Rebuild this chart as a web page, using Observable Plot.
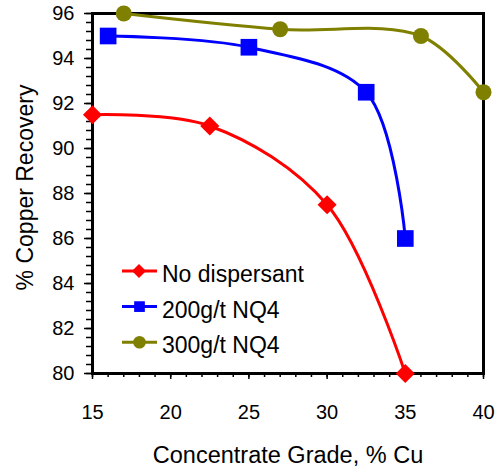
<!DOCTYPE html>
<html>
<head>
<meta charset="utf-8">
<script src="https://cdn.jsdelivr.net/npm/d3@7"></script>
<script src="https://cdn.jsdelivr.net/npm/@observablehq/plot@0.6"></script>
<style>
  html, body { margin: 0; padding: 0; background: #fff; }
  #wrap { position: relative; width: 503px; height: 467px; }
  #legend { position: absolute; left: 0; top: 0; pointer-events: none; }
  text { font-family: "Liberation Sans", Arial, sans-serif; }
</style>
</head>
<body>
<div id="wrap"></div>
<script>
// ---- data ----
const seriesNames = ["No dispersant", "200g/t NQ4", "300g/t NQ4"];
const seriesColors = ["#ff0000", "#0000ff", "#808000"];
const seriesSymbols = ["diamond2", "square", "circle"];

const gradeNone = [15, 22.5, 30, 35];
const recoveryNone = [91.5, 91.0, 87.5, 80.0];
const grade200 = [16, 25, 32.5, 35];
const recovery200 = [95.0, 94.5, 92.5, 86.0];
const grade300 = [17, 27, 36, 40];
const recovery300 = [96.0, 95.3, 95.0, 92.5];

const xTicks = [15, 20, 25, 30, 35, 40];
const yTicks = [80, 82, 84, 86, 88, 90, 92, 94, 96];
const xMinorTicks = d3.range(15, 40.001, 1);
const yMinorTicks = d3.range(80, 96.001, 0.4);

const xTitle = "Concentrate Grade, % Cu";
const yTitle = "% Copper Recovery";

// ---- build ----
const toRows = (xs, ys) => xs.map((x, i) => ({x, y: ys[i]}));
const series = [
  toRows(gradeNone, recoveryNone),
  toRows(grade200, recovery200),
  toRows(grade300, recovery300)
];
const markerR = [8.6, 9.4, 8.0];

const font = "Liberation Sans, Arial, sans-serif";

const marks = [
  Plot.frame({stroke: "#000", strokeWidth: 3}),
  Plot.axisX({ticks: xMinorTicks, tickSize: 4, text: null, label: null, strokeWidth: 1.5}),
  Plot.axisX({ticks: xTicks, tickSize: 6, tickPadding: 25, fontSize: 20, label: null, strokeWidth: 1.5, tickFormat: d => d}),
  Plot.axisY({ticks: yMinorTicks, tickSize: 6, text: null, label: null, strokeWidth: 1.5}),
  Plot.axisY({ticks: yTicks, tickSize: 8, tickPadding: 10, fontSize: 20, label: null, strokeWidth: 1.5, tickFormat: d => d}),
  Plot.text([xTitle], {frameAnchor: "bottom", dy: 82, lineAnchor: "middle", textAnchor: "middle", fontSize: 23.5, fill: "#000"}),
  Plot.text([yTitle], {frameAnchor: "left", dx: -67, dy: -6, rotate: -90, lineAnchor: "middle", textAnchor: "middle", fontSize: 23, fill: "#000"})
];
series.forEach((rows, i) => {
  marks.push(Plot.line(rows, {x: "x", y: "y", stroke: seriesColors[i], strokeWidth: 3, curve: "catmull-rom"}));
});
series.forEach((rows, i) => {
  marks.push(Plot.dot(rows, {x: "x", y: "y", symbol: seriesSymbols[i], fill: seriesColors[i], stroke: "none", r: markerR[i]}));
});

const chart = Plot.plot({
  width: 503,
  height: 467,
  marginLeft: 92,
  marginRight: 20,
  marginTop: 13,
  marginBottom: 94,
  style: {fontFamily: font, background: "#fff", color: "#000", overflow: "visible"},
  x: {domain: [15, 40]},
  y: {domain: [80, 96]},
  marks
});
document.getElementById("wrap").appendChild(chart);

// ---- legend (inside plot area) ----
const legendSvg = d3.select("#wrap").append("svg")
  .attr("id", "legend").attr("width", 503).attr("height", 467);
const legendMarkerSize = [7, 10.7, 6.3];
seriesNames.forEach((name, i) => {
  const cy = 271 + i * 35.6;
  const g = legendSvg.append("g");
  g.append("line").attr("x1", 122).attr("x2", 157).attr("y1", cy).attr("y2", cy)
    .attr("stroke", seriesColors[i]).attr("stroke-width", 3);
  if (i === 0) {
    const h = legendMarkerSize[0];
    g.append("path").attr("d", `M139,${cy - h}L${139 + h},${cy}L139,${cy + h}L${139 - h},${cy}Z`).attr("fill", seriesColors[i]);
  } else if (i === 1) {
    const s = legendMarkerSize[1];
    g.append("rect").attr("x", 139.5 - s / 2).attr("y", cy - s / 2).attr("width", s).attr("height", s).attr("fill", seriesColors[i]);
  } else {
    g.append("circle").attr("cx", 139.5).attr("cy", cy).attr("r", legendMarkerSize[2]).attr("fill", seriesColors[i]);
  }
  g.append("text").attr("x", 162).attr("y", cy + 3).attr("dy", "0.35em")
    .attr("font-size", 23).attr("font-family", font).attr("fill", "#000").text(name);
});
</script>
</body>
</html>
